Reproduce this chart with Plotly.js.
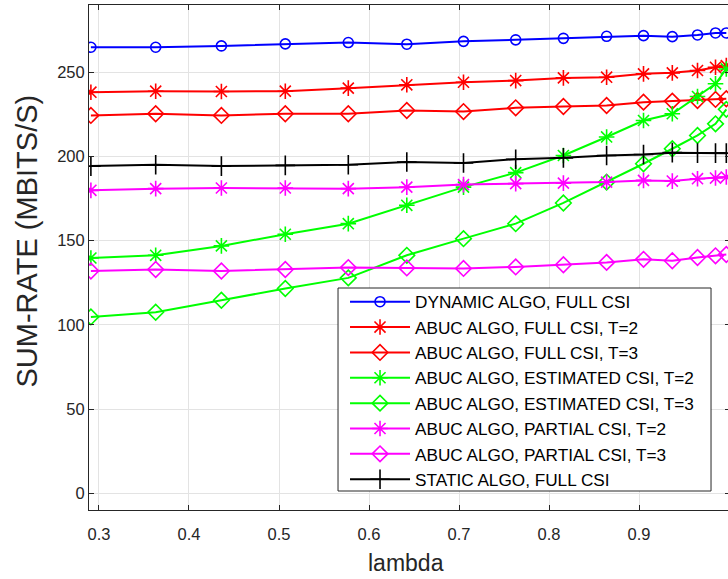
<!DOCTYPE html>
<html>
<head>
<meta charset="utf-8">
<script src="https://cdn.plot.ly/plotly-3.0.1.min.js"></script>
<style>
html, body { margin: 0; padding: 0; overflow: hidden; background: #fff; }
#chart { width: 731px; height: 579px; }
</style>
</head>
<body>
<div id="chart"></div>
<script>
const lambda = [0.291, 0.363, 0.436, 0.507, 0.577, 0.642, 0.705, 0.763, 0.816, 0.864, 0.905, 0.937, 0.965, 0.985, 0.997];

const dynamicFull   = [264.9, 264.9, 265.7, 266.9, 267.7, 266.7, 268.4, 269.3, 270.2, 271.4, 271.8, 271.2, 272.2, 273.4, 273.4];
const abucFullT2    = [238.2, 238.8, 238.6, 238.8, 240.6, 242.6, 244.1, 245.1, 246.7, 247.1, 249.1, 249.7, 251.1, 253.0, 254.0];
const abucFullT3    = [224.4, 225.4, 224.4, 225.4, 225.4, 227.3, 226.7, 228.9, 229.7, 230.3, 232.3, 232.9, 233.3, 233.9, 234.3];
const abucEstT2     = [139.7, 141.3, 146.9, 153.8, 160.1, 171.0, 181.8, 190.4, 200.6, 211.6, 221.4, 225.4, 235.6, 243.2, 252.0];
const abucEstT3     = [104.7, 107.5, 114.6, 121.6, 127.9, 141.3, 151.2, 160.1, 172.4, 184.8, 195.7, 204.6, 212.5, 219.4, 228.0];
const abucPartT2    = [179.9, 180.9, 181.3, 181.3, 180.9, 181.8, 183.3, 183.9, 184.2, 184.8, 185.8, 185.4, 186.8, 187.2, 187.8];
const abucPartT3    = [132.0, 132.9, 132.0, 132.9, 134.0, 133.8, 133.5, 134.4, 135.7, 137.1, 138.9, 138.1, 140.0, 141.0, 141.8];
const staticFull    = [194.3, 195.1, 194.3, 194.7, 195.1, 196.7, 196.1, 198.4, 199.2, 200.6, 201.2, 202.3, 202.0, 202.0, 202.0];

const seriesNames = [
  "DYNAMIC ALGO, FULL CSI",
  "ABUC ALGO, FULL CSI, T=2",
  "ABUC ALGO, FULL CSI, T=3",
  "ABUC ALGO, ESTIMATED CSI, T=2",
  "ABUC ALGO, ESTIMATED CSI, T=3",
  "ABUC ALGO, PARTIAL CSI, T=2",
  "ABUC ALGO, PARTIAL CSI, T=3",
  "STATIC ALGO, FULL CSI"
];
const seriesValues = [dynamicFull, abucFullT2, abucFullT3, abucEstT2, abucEstT3, abucPartT2, abucPartT3, staticFull];
const seriesColors = ["#0000ff", "#ff0000", "#ff0000", "#00ff00", "#00ff00", "#ff00ff", "#ff00ff", "#000000"];
const seriesSymbols = ["circle-open", "asterisk-open", "diamond-open", "asterisk-open", "diamond-open", "asterisk-open", "diamond-open", "cross-thin-open"];
const seriesSizes = [10, 13, 12, 13, 12, 13, 12, 14];

const xTicks = [0.3, 0.4, 0.5, 0.6, 0.7, 0.8, 0.9, 1.0];
const xTickText = ["0.3", "0.4", "0.5", "0.6", "0.7", "0.8", "0.9", "1"];
const yTicks = [0, 50, 100, 150, 200, 250];

const traces = seriesValues.map((vals, i) => ({
  type: "scatter",
  mode: "lines+markers",
  x: lambda,
  y: vals,
  name: seriesNames[i],
  legendgroup: "g" + i,
  line: { color: seriesColors[i], width: 2 },
  marker: { symbol: seriesSymbols[i], size: seriesSizes[i], color: seriesColors[i], line: { color: seriesColors[i], width: 1.6 } }
}));

const axisColor = "#262626";
const fontFam = "Liberation Sans, Arial, Helvetica, sans-serif";

const layout = {
  width: 731,
  height: 579,
  margin: { l: 89, r: 1, t: 5, b: 69 },
  paper_bgcolor: "#ffffff",
  plot_bgcolor: "#ffffff",
  font: { family: fontFam, color: axisColor },
  showlegend: true,
  legend: {
    x: 0.3994, y: 0.4475, xanchor: "left", yanchor: "top",
    bgcolor: "rgba(0,0,0,0)", borderwidth: 0,
    font: { size: 17.2, family: fontFam, color: "#000000" },
    itemwidth: 60,
    tracegroupgap: 0,
    traceorder: "normal"
  },
  xaxis: {
    range: [0.2889, 1.0011],
    tickvals: xTicks,
    ticktext: xTickText,
    ticks: "inside",
    ticklen: 5,
    tickcolor: axisColor,
    tickfont: { size: 16.5, color: axisColor },
    ticklabelstandoff: 9,
    showgrid: true,
    gridcolor: "#e3e3e3",
    gridwidth: 1,
    showline: true,
    linecolor: axisColor,
    linewidth: 1,
    mirror: "ticks",
    zeroline: false
  },
  yaxis: {
    range: [-10, 290],
    tickvals: yTicks,
    ticks: "inside",
    ticklen: 5,
    tickcolor: axisColor,
    tickfont: { size: 16.5, color: axisColor },
    showgrid: true,
    gridcolor: "#e3e3e3",
    gridwidth: 1,
    showline: true,
    linecolor: axisColor,
    linewidth: 1,
    mirror: "ticks",
    zeroline: false
  },
  shapes: [{
    type: "rect", xref: "paper", yref: "paper",
    x0: 0.3885, x1: 0.9704, y0: 0.0376, y1: 0.4396,
    fillcolor: "#ffffff",
    line: { color: "#262626", width: 1 },
    layer: "above"
  }],
  annotations: [
    {
      text: "SUM-RATE (MBITS/S)",
      xref: "paper", yref: "paper",
      x: -0.0975, y: 0.5327,
      xanchor: "center", yanchor: "middle",
      textangle: -90, showarrow: false,
      font: { size: 29, family: fontFam, color: axisColor }
    },
    {
      text: "lambda",
      xref: "paper", yref: "paper",
      x: 0.4945, y: -0.105,
      xanchor: "center", yanchor: "middle",
      showarrow: false,
      font: { size: 23, family: fontFam, color: axisColor }
    }
  ]
};

Plotly.newPlot("chart", traces, layout, { staticPlot: true, displayModeBar: false });
</script>
</body>
</html>
